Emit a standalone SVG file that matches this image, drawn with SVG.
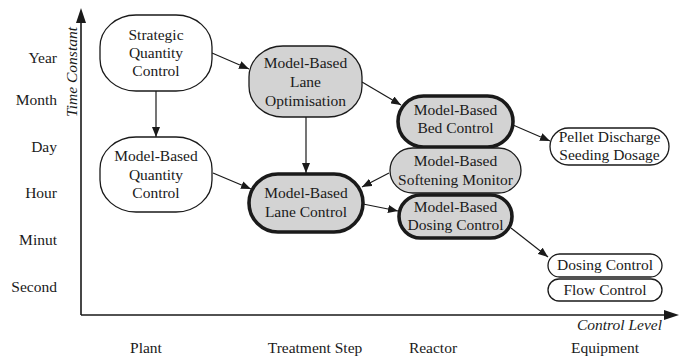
<svg xmlns="http://www.w3.org/2000/svg" width="687" height="359" viewBox="0 0 687 359" font-family="'Liberation Serif', 'DejaVu Serif', serif">
<style>
text{font-family:'Liberation Serif','DejaVu Serif',serif;font-size:15.5px;fill:#1a1a1a}
.c{text-anchor:middle}
.r{text-anchor:end}
.i{font-style:italic}
.n{fill:#fff;stroke:#1a1a1a;stroke-width:1.3}
.g{fill:#d3d3d3;stroke:#1a1a1a;stroke-width:1.3}
.t{fill:#d3d3d3;stroke:#1a1a1a;stroke-width:3.6}
.e{fill:none;stroke:#1a1a1a;stroke-width:1.2}
.ax{fill:none;stroke:#1a1a1a;stroke-width:1.6}
</style>
<defs>
<marker id="a" viewBox="0 0 10 8" refX="10" refY="4" markerWidth="10" markerHeight="8" markerUnits="userSpaceOnUse" orient="auto"><path d="M0,0L10,4L0,8z" fill="#1a1a1a"/></marker>
</defs>
<g id="axes">
<path class="ax" d="M81,315V20M81,315H667"/>
<path d="M81,8L76,23H86z" fill="#1a1a1a"/>
<path d="M679,315L664,310V320z" fill="#1a1a1a"/>
<text class="c i" transform="translate(77,72) rotate(-90)">Time Constant</text>
<text class="r i" x="662" y="330">Control Level</text>
<text class="r" x="57" y="63">Year</text>
<text class="r" x="57" y="105">Month</text>
<text class="r" x="57" y="152">Day</text>
<text class="r" x="57" y="198">Hour</text>
<text class="r" x="57" y="245">Minut</text>
<text class="r" x="57" y="292">Second</text>
<text class="c" x="146" y="353">Plant</text>
<text class="c" x="315" y="353">Treatment Step</text>
<text class="c" x="433" y="353">Reactor</text>
<text class="c" x="605" y="353">Equipment</text>
</g>
<g id="connectors">
<path class="e" marker-end="url(#a)" d="M212,53L249,69"/>
<path class="e" marker-end="url(#a)" d="M156,91V137"/>
<path class="e" marker-end="url(#a)" d="M362,82L401,105"/>
<path class="e" marker-end="url(#a)" d="M306,117V173"/>
<path class="e" marker-end="url(#a)" d="M213,173L251,189"/>
<path class="e" marker-end="url(#a)" d="M389,173L362,187"/>
<path class="e" marker-end="url(#a)" d="M363,204L398,211"/>
<path class="e" marker-end="url(#a)" d="M513,125L550,141"/>
<path class="e" marker-end="url(#a)" d="M511,228L548,257"/>
</g>
<g id="strategic">
<rect class="n" x="100" y="15" width="112" height="76" rx="36" ry="32"/>
<text class="c" x="156" y="40">Strategic</text>
<text class="c" x="156" y="58">Quantity</text>
<text class="c" x="156" y="76">Control</text>
</g>
<g id="quantity">
<rect class="n" x="100" y="137" width="112" height="75" rx="36" ry="32"/>
<text class="c" x="156" y="161">Model-Based</text>
<text class="c" x="156" y="180">Quantity</text>
<text class="c" x="156" y="198">Control</text>
</g>
<g id="laneopt">
<rect class="g" x="249" y="46" width="113" height="71" rx="34" ry="31"/>
<text class="c" x="305.5" y="68">Model-Based</text>
<text class="c" x="305.5" y="87">Lane</text>
<text class="c" x="305.5" y="106">Optimisation</text>
</g>
<g id="lanecontrol">
<rect class="t" x="249" y="174" width="114" height="58" rx="29"/>
<text class="c" x="306" y="198">Model-Based</text>
<text class="c" x="306" y="217">Lane Control</text>
</g>
<g id="bed">
<rect class="t" x="398" y="96" width="115" height="51" rx="25.5"/>
<text class="c" x="455.5" y="115">Model-Based</text>
<text class="c" x="455.5" y="133">Bed Control</text>
</g>
<g id="softening">
<rect class="g" x="390" y="148" width="131" height="45" rx="22.5"/>
<text class="c" x="455.5" y="166">Model-Based</text>
<text class="c" x="455.5" y="185">Softening Monitor</text>
</g>
<g id="dosing">
<rect class="t" x="399" y="195" width="113" height="43" rx="21.5"/>
<text class="c" x="455.5" y="212">Model-Based</text>
<text class="c" x="455.5" y="230">Dosing Control</text>
</g>
<g id="pellet">
<rect class="n" x="550" y="128" width="119" height="37" rx="18.5"/>
<text class="c" x="609.5" y="142">Pellet Discharge</text>
<text class="c" x="609.5" y="160">Seeding Dosage</text>
</g>
<g id="dosingeq">
<rect class="n" x="548" y="254" width="114" height="23" rx="11.5"/>
<text class="c" x="605" y="270">Dosing Control</text>
</g>
<g id="flow">
<rect class="n" x="548" y="279" width="114" height="22" rx="11"/>
<text class="c" x="605" y="295">Flow Control</text>
</g>
</svg>
